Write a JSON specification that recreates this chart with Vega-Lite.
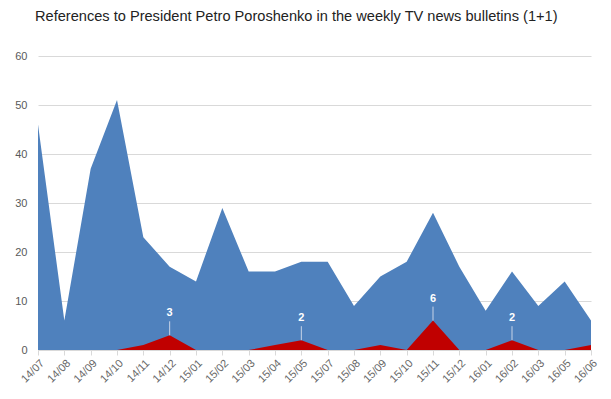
{
  "$schema": "https://vega.github.io/schema/vega-lite/v6.json",
  "width": 553,
  "height": 294,
  "autosize": {"type": "none"},
  "padding": {"left": 38, "top": 56, "right": 20, "bottom": 49},
  "background": "white",
  "title": {
    "text": "References to President Petro Poroshenko in the weekly TV news bulletins (1+1)",
    "anchor": "start",
    "frame": "group",
    "dx": -3,
    "offset": 26,
    "font": "Liberation Sans",
    "fontSize": 14.6,
    "fontWeight": "normal",
    "color": "#222222"
  },
  "config": {
    "view": {"stroke": null},
    "font": "Liberation Sans"
  },
  "data": {
    "values": [
      {"month": "14/07", "total": 46, "red": 0},
      {"month": "14/08", "total": 6, "red": 0},
      {"month": "14/09", "total": 37, "red": 0},
      {"month": "14/10", "total": 51, "red": 0},
      {"month": "14/11", "total": 23, "red": 1},
      {"month": "14/12", "total": 17, "red": 3},
      {"month": "15/01", "total": 14, "red": 0},
      {"month": "15/02", "total": 29, "red": 0},
      {"month": "15/03", "total": 16, "red": 0},
      {"month": "15/04", "total": 16, "red": 1},
      {"month": "15/05", "total": 18, "red": 2},
      {"month": "15/07", "total": 18, "red": 0},
      {"month": "15/08", "total": 9, "red": 0},
      {"month": "15/09", "total": 15, "red": 1},
      {"month": "15/10", "total": 18, "red": 0},
      {"month": "15/11", "total": 28, "red": 6},
      {"month": "15/12", "total": 17, "red": 0},
      {"month": "16/01", "total": 8, "red": 0},
      {"month": "16/02", "total": 16, "red": 2},
      {"month": "16/03", "total": 9, "red": 0},
      {"month": "16/05", "total": 14, "red": 0},
      {"month": "16/06", "total": 6, "red": 1}
    ]
  },
  "encoding": {
    "x": {
      "field": "month",
      "type": "ordinal",
      "sort": null,
      "scale": {"type": "point", "padding": 0},
      "axis": {
        "title": null,
        "labelAngle": -45,
        "labelFontSize": 11,
        "labelColor": "#666666",
        "domainColor": "#d9d9d9",
        "tickColor": "#d9d9d9",
        "tickSize": 5,
        "labelPadding": 2,
        "grid": false
      }
    }
  },
  "layer": [
    {
      "mark": {"type": "area", "color": "#4f81bd", "opacity": 1},
      "encoding": {
        "y": {
          "field": "total",
          "type": "quantitative",
          "scale": {"domain": [0, 60]},
          "axis": {
            "title": null,
            "values": [0, 10, 20, 30, 40, 50, 60],
            "domain": false,
            "ticks": false,
            "gridColor": "#d9d9d9",
            "labelColor": "#595959",
            "labelFontSize": 11,
            "labelPadding": 11
          }
        }
      }
    },
    {
      "mark": {"type": "area", "color": "#c00000", "opacity": 1},
      "encoding": {"y": {"field": "red", "type": "quantitative"}}
    },
    {
      "transform": [{"filter": "datum.red >= 2"}],
      "mark": {"type": "rule", "color": "#c8d3e6", "strokeWidth": 1, "y2Offset": -14},
      "encoding": {
        "y": {"field": "red", "type": "quantitative"},
        "y2": {"field": "red"}
      }
    },
    {
      "transform": [{"filter": "datum.red >= 2"}],
      "mark": {"type": "text", "color": "white", "fontWeight": "bold", "fontSize": 11, "dy": -22},
      "encoding": {
        "y": {"field": "red", "type": "quantitative"},
        "text": {"field": "red", "type": "quantitative"}
      }
    }
  ]
}
